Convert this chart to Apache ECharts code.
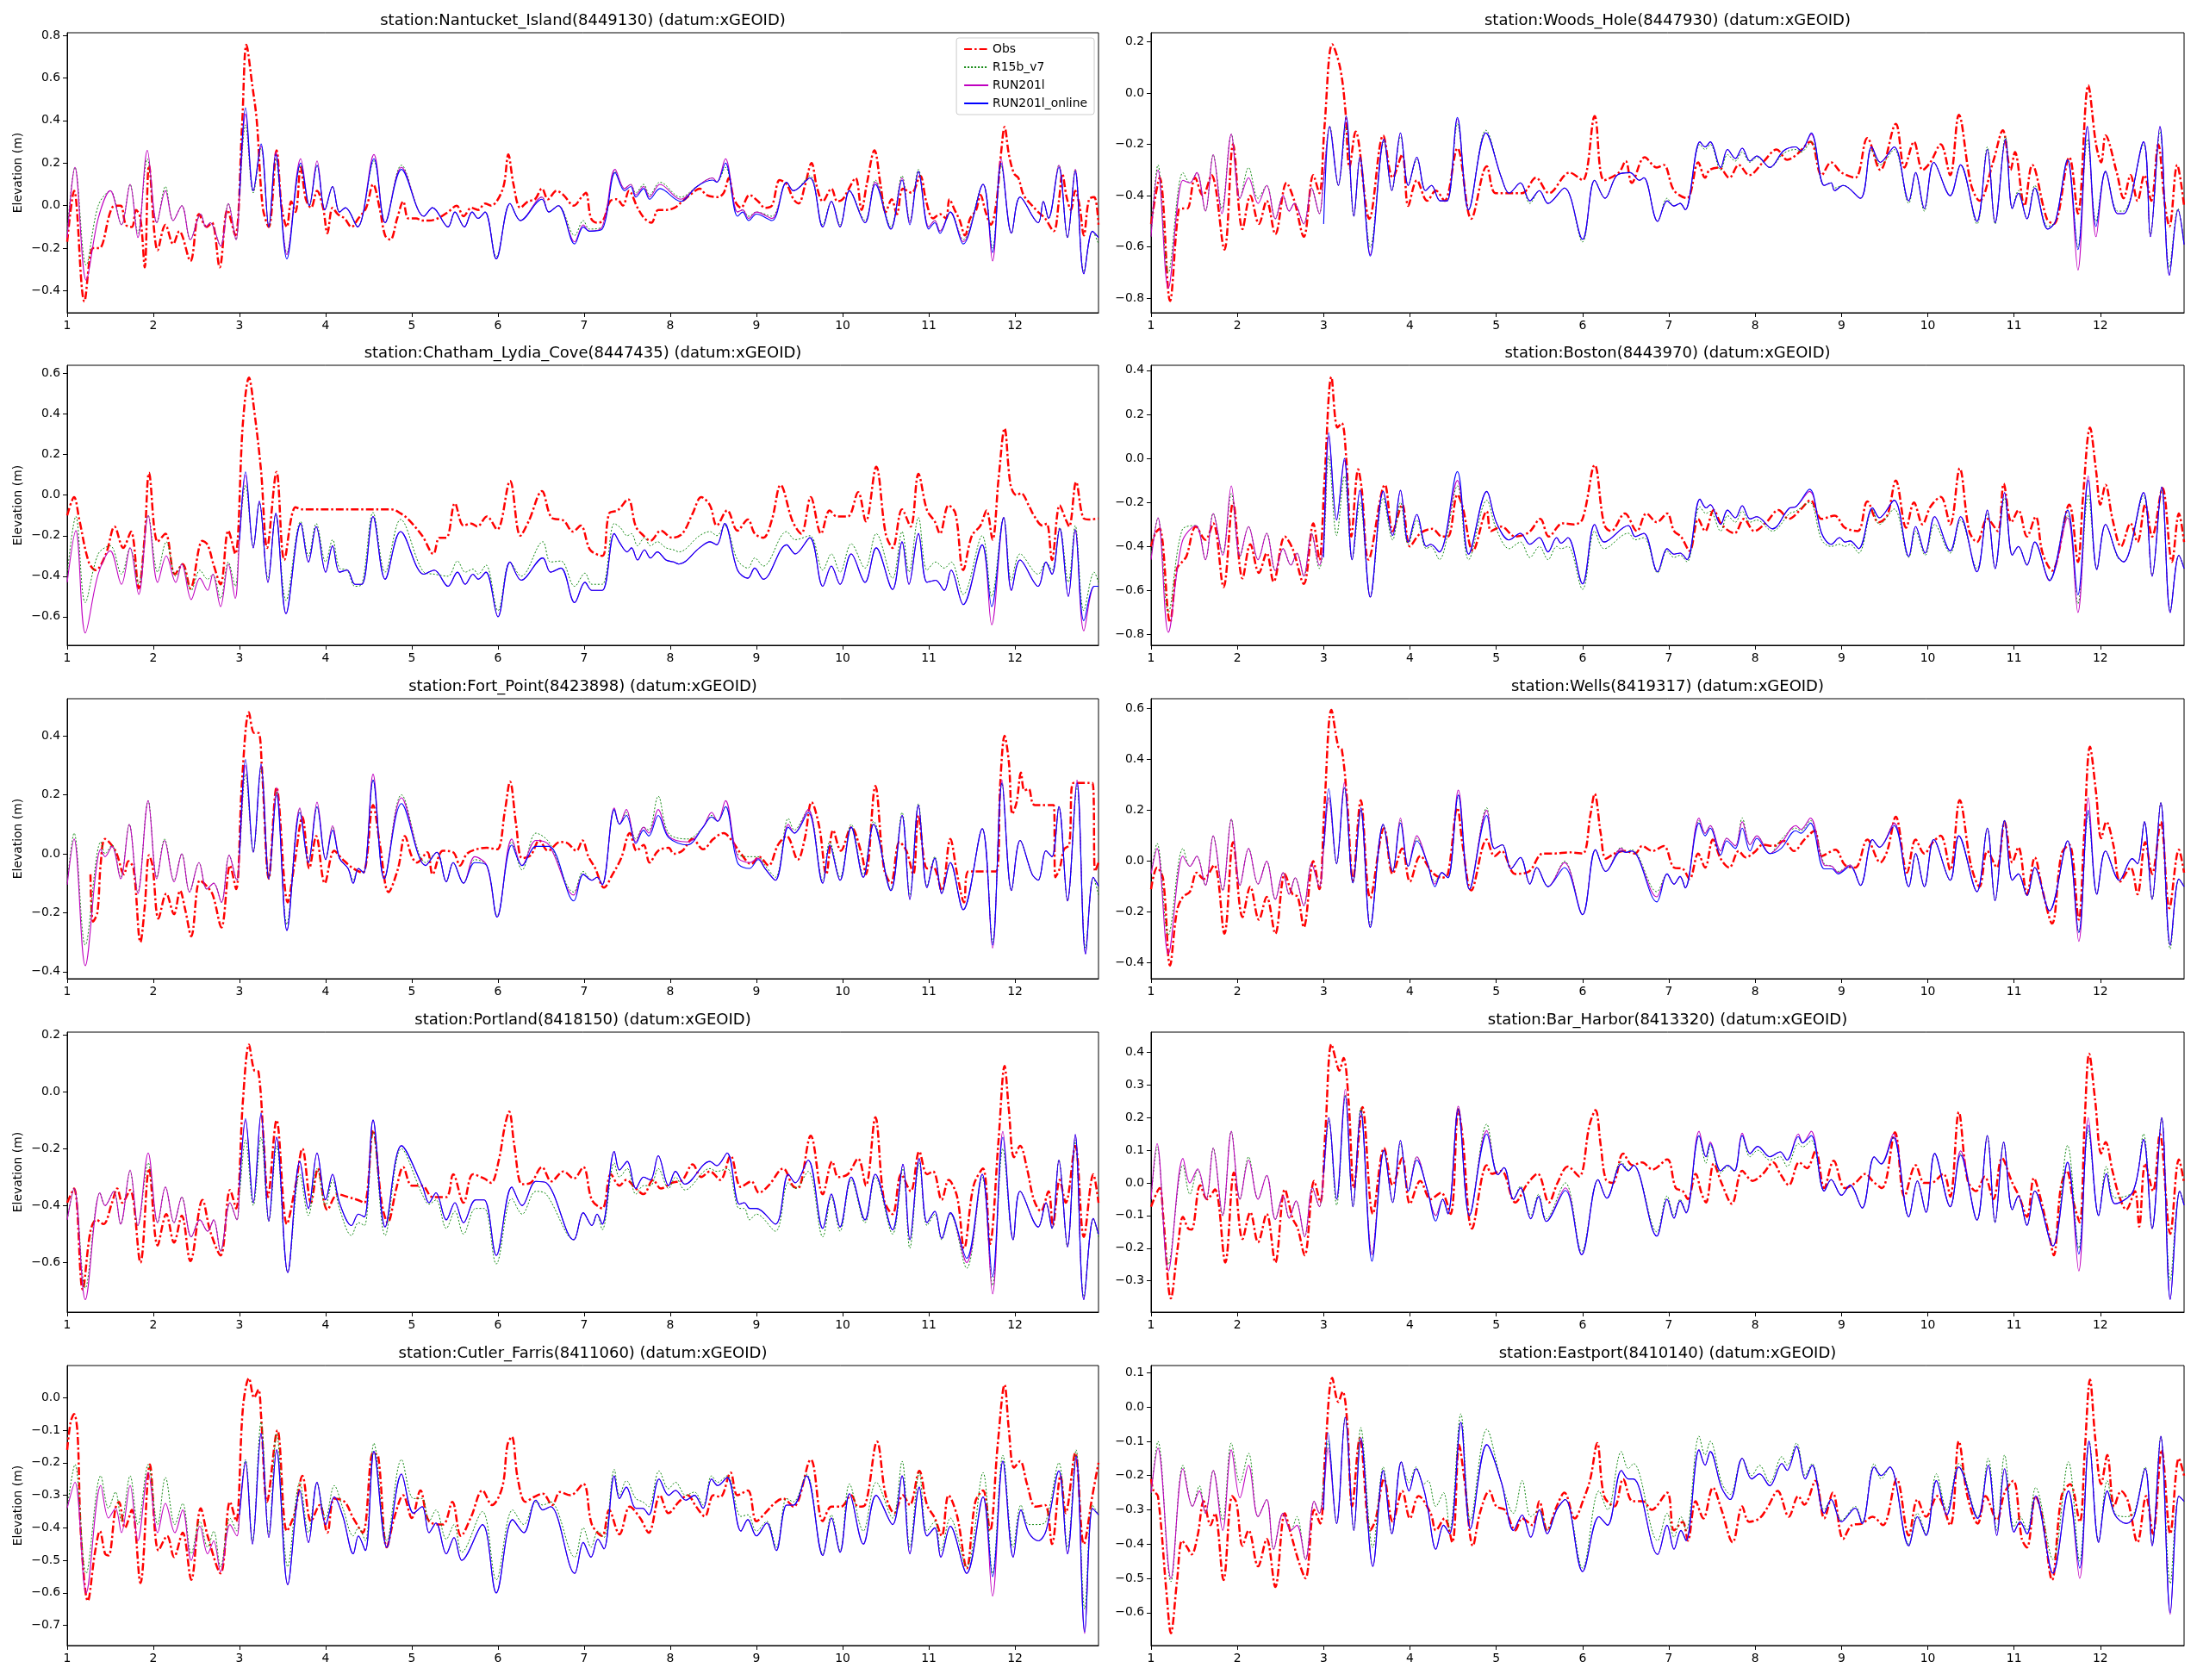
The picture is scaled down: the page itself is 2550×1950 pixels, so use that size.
<!DOCTYPE html>
<html>
<head>
<meta charset="utf-8">
<script src="https://cdn.jsdelivr.net/npm/echarts@6.0.0/dist/echarts.min.js"></script>
<style>
  html, body { margin: 0; padding: 0; background: #fff; }
  #chart { width: 2550px; height: 1950px; }
</style>
</head>
<body>
<div id="chart"></div>
<script>
// ---- labels ----
const SERIES_NAMES = ['Obs', 'R15b_v7', 'RUN201l', 'RUN201l_online'];
const STATION_TITLES = [
  'station:Nantucket_Island(8449130) (datum:xGEOID)',
  'station:Woods_Hole(8447930) (datum:xGEOID)',
  'station:Chatham_Lydia_Cove(8447435) (datum:xGEOID)',
  'station:Boston(8443970) (datum:xGEOID)',
  'station:Fort_Point(8423898) (datum:xGEOID)',
  'station:Wells(8419317) (datum:xGEOID)',
  'station:Portland(8418150) (datum:xGEOID)',
  'station:Bar_Harbor(8413320) (datum:xGEOID)',
  'station:Cutler_Farris(8411060) (datum:xGEOID)',
  'station:Eastport(8410140) (datum:xGEOID)'
];
const X_TICKS = [1, 2, 3, 4, 5, 6, 7, 8, 9, 10, 11, 12];
const Y_MIN = [-0.503, -0.856, -0.741, -0.849, -0.424, -0.462, -0.774, -0.396, -0.762, -0.696];
const Y_MAX = [0.812, 0.235, 0.641, 0.423, 0.526, 0.639, 0.209, 0.462, 0.099, 0.121];
const Y_TICKS = [
  [-0.4, -0.2, 0, 0.2, 0.4, 0.6, 0.8],
  [-0.8, -0.6, -0.4, -0.2, 0, 0.2],
  [-0.6, -0.4, -0.2, 0, 0.2, 0.4, 0.6],
  [-0.8, -0.6, -0.4, -0.2, 0, 0.2, 0.4],
  [-0.4, -0.2, 0, 0.2, 0.4],
  [-0.4, -0.2, 0, 0.2, 0.4, 0.6],
  [-0.6, -0.4, -0.2, 0, 0.2],
  [-0.3, -0.2, -0.1, 0, 0.1, 0.2, 0.3, 0.4],
  [-0.7, -0.6, -0.5, -0.4, -0.3, -0.2, -0.1, 0],
  [-0.6, -0.5, -0.4, -0.3, -0.2, -0.1, 0, 0.1]
];

// ---- data: obs rows [day, elev]; model rows [day, R15b_v7, RUN201l, RUN201l_online] ----
const nantucketObs = [[1.0,-0.17],[1.08,0.07],[1.2,-0.45],[1.3,-0.2],[1.37,-0.2],[1.5,-0.03],[1.55,0.0],[1.62,0.0],[1.68,-0.09],[1.75,-0.1],[1.8,-0.02],[1.85,-0.06],[1.9,-0.29],[1.95,0.19],[2.05,-0.21],[2.14,-0.09],[2.23,-0.18],[2.3,-0.12],[2.43,-0.26],[2.53,-0.04],[2.62,-0.1],[2.68,-0.08],[2.77,-0.29],[2.86,-0.02],[2.95,-0.14],[3.03,0.38],[3.08,0.755],[3.15,0.56],[3.2,0.4],[3.27,-0.01],[3.34,-0.1],[3.43,0.26],[3.49,-0.01],[3.55,-0.1],[3.6,0.02],[3.65,-0.03],[3.71,0.18],[3.77,0.03],[3.83,-0.01],[3.9,0.07],[3.97,-0.01],[4.02,-0.13],[4.08,-0.01],[4.14,-0.04],[4.22,-0.06],[4.3,-0.1],[4.38,-0.06],[4.47,-0.01],[4.55,0.1],[4.63,-0.02],[4.69,-0.14],[4.75,-0.16],[4.83,-0.06],[4.9,0.02],[4.96,-0.06],[5.05,-0.06],[5.12,-0.07],[5.2,-0.07],[5.3,-0.06],[5.42,-0.03],[5.52,0.0],[5.6,-0.05],[5.69,-0.01],[5.77,-0.02],[5.85,0.01],[5.92,0.0],[6.0,0.03],[6.07,0.1],[6.12,0.24],[6.18,0.1],[6.26,-0.01],[6.35,0.02],[6.43,0.03],[6.51,0.08],[6.58,0.03],[6.68,0.07],[6.76,0.05],[6.88,0.0],[6.97,0.04],[7.02,0.06],[7.08,-0.06],[7.15,-0.08],[7.22,-0.07],[7.3,0.02],[7.38,0.03],[7.45,0.0],[7.52,0.07],[7.62,-0.01],[7.7,-0.06],[7.78,-0.08],[7.86,-0.02],[7.95,-0.02],[8.05,-0.01],[8.14,0.02],[8.26,0.06],[8.34,0.08],[8.42,0.05],[8.55,0.04],[8.62,0.06],[8.68,0.13],[8.74,0.03],[8.82,-0.01],[8.92,0.05],[9.02,0.02],[9.1,-0.01],[9.18,0.0],[9.27,0.12],[9.35,0.1],[9.43,0.03],[9.49,0.01],[9.56,0.09],[9.64,0.2],[9.7,0.09],[9.77,0.02],[9.87,0.08],[9.94,0.02],[10.0,0.03],[10.06,0.07],[10.15,0.13],[10.22,-0.02],[10.28,0.1],[10.37,0.26],[10.44,0.1],[10.5,-0.03],[10.57,0.03],[10.63,-0.04],[10.7,0.08],[10.8,0.06],[10.9,0.14],[10.97,0.02],[11.05,-0.06],[11.13,-0.04],[11.2,-0.06],[11.24,0.03],[11.3,-0.02],[11.36,-0.07],[11.42,-0.14],[11.48,-0.06],[11.55,-0.02],[11.6,0.05],[11.66,-0.03],[11.72,-0.09],[11.78,0.0],[11.84,0.25],[11.88,0.37],[11.93,0.24],[11.99,0.15],[12.04,0.13],[12.1,0.05],[12.2,0.0],[12.27,-0.03],[12.35,-0.06],[12.45,-0.12],[12.51,0.02],[12.55,0.15],[12.6,0.04],[12.65,-0.02],[12.7,0.07],[12.75,0.0],[12.8,-0.14],[12.86,0.03],[12.92,0.04],[12.97,-0.09]];
const nantucketModels = [[1.0,-0.12,-0.15,null],[1.09,0.18,0.18,null],[1.22,-0.28,-0.35,null],[1.36,0.0,-0.06,null],[1.5,0.07,0.07,null],[1.63,-0.09,-0.09,null],[1.73,0.1,0.1,null],[1.82,-0.13,-0.15,null],[1.93,0.22,0.26,null],[2.04,-0.08,-0.08,null],[2.14,0.09,0.07,null],[2.23,-0.07,-0.07,null],[2.33,0.0,0.0,null],[2.43,-0.16,-0.16,null],[2.55,-0.04,-0.04,null],[2.61,-0.1,-0.1,null],[2.66,-0.08,-0.08,null],[2.78,-0.19,-0.19,null],[2.87,0.01,0.01,null],[2.96,-0.16,-0.16,null],[3.0,0.05,0.05,0.05],[3.07,0.38,0.43,0.46],[3.16,0.06,0.07,0.07],[3.25,0.27,0.28,0.29],[3.34,-0.1,-0.1,-0.1],[3.42,0.22,0.25,0.24],[3.55,-0.22,-0.23,-0.25],[3.71,0.19,0.22,0.2],[3.81,0.0,0.0,0.0],[3.9,0.19,0.21,0.19],[3.99,-0.02,-0.02,-0.02],[4.08,0.09,0.09,0.09],[4.16,-0.03,-0.03,-0.03],[4.23,-0.01,-0.01,-0.01],[4.37,-0.1,-0.1,-0.1],[4.56,0.21,0.24,0.22],[4.69,-0.08,-0.08,-0.08],[4.88,0.19,0.18,0.17],[5.14,-0.05,-0.05,-0.05],[5.24,-0.01,-0.01,-0.01],[5.42,-0.1,-0.1,-0.1],[5.5,-0.03,-0.03,-0.03],[5.61,-0.1,-0.1,-0.1],[5.7,-0.03,-0.03,-0.03],[5.77,-0.06,-0.06,-0.06],[5.85,-0.03,-0.03,-0.03],[5.98,-0.24,-0.25,-0.25],[6.14,0.01,0.01,0.01],[6.26,-0.07,-0.07,-0.07],[6.51,0.04,0.04,0.03],[6.59,-0.03,-0.03,-0.03],[6.7,0.0,0.0,0.0],[6.89,-0.14,-0.17,-0.18],[6.99,-0.07,-0.09,-0.1],[7.06,-0.11,-0.12,-0.12],[7.21,-0.1,-0.1,-0.11],[7.36,0.16,0.17,0.155],[7.47,0.08,0.08,0.07],[7.54,0.1,0.1,0.09],[7.6,0.06,0.05,0.04],[7.69,0.1,0.09,0.08],[7.76,0.05,0.04,0.03],[7.88,0.11,0.1,0.08],[8.12,0.04,0.03,0.02],[8.31,0.09,0.09,0.09],[8.49,0.13,0.13,0.12],[8.54,0.11,0.11,0.11],[8.64,0.18,0.22,0.2],[8.78,-0.03,-0.03,-0.05],[8.84,-0.02,-0.02,-0.03],[8.91,-0.05,-0.06,-0.07],[9.0,-0.03,-0.03,-0.04],[9.18,-0.05,-0.06,-0.07],[9.35,0.11,0.11,0.11],[9.43,0.07,0.07,0.07],[9.62,0.14,0.13,0.13],[9.77,-0.09,-0.1,-0.1],[9.87,0.02,0.02,0.02],[9.97,-0.09,-0.1,-0.1],[10.08,0.07,0.07,0.07],[10.26,-0.07,-0.08,-0.08],[10.38,0.12,0.11,0.1],[10.56,-0.1,-0.11,-0.11],[10.69,0.14,0.13,0.12],[10.78,-0.07,-0.08,-0.09],[10.88,0.17,0.16,0.16],[11.0,-0.1,-0.1,-0.11],[11.07,-0.07,-0.07,-0.08],[11.13,-0.12,-0.12,-0.13],[11.25,-0.03,-0.03,-0.03],[11.4,-0.16,-0.17,-0.18],[11.63,0.1,0.1,0.1],[11.74,-0.2,-0.26,-0.22],[11.84,0.19,0.22,0.2],[11.96,-0.13,-0.13,-0.13],[12.06,0.04,0.04,0.04],[12.27,-0.08,-0.08,-0.08],[12.33,0.02,0.02,0.02],[12.39,-0.06,-0.06,-0.06],[12.51,0.19,0.19,0.18],[12.61,-0.15,-0.15,-0.15],[12.7,0.17,0.17,0.16],[12.8,-0.31,-0.32,-0.32],[12.9,-0.12,-0.12,-0.12],[12.97,-0.18,-0.15,-0.15]];

const woodsHoleObs = [[1.0,-0.51],[1.1,-0.33],[1.22,-0.81],[1.32,-0.455],[1.37,-0.45],[1.42,-0.45],[1.51,-0.33],[1.6,-0.4],[1.7,-0.32],[1.85,-0.61],[1.95,-0.2],[2.06,-0.53],[2.15,-0.4],[2.25,-0.51],[2.34,-0.42],[2.44,-0.55],[2.57,-0.35],[2.66,-0.42],[2.77,-0.56],[2.88,-0.32],[2.95,-0.39],[3.01,-0.13],[3.1,0.19],[3.19,0.1],[3.25,-0.06],[3.3,-0.29],[3.37,-0.15],[3.53,-0.49],[3.69,-0.165],[3.8,-0.33],[3.91,-0.24],[3.98,-0.44],[4.08,-0.34],[4.2,-0.42],[4.3,-0.38],[4.4,-0.42],[4.55,-0.215],[4.71,-0.49],[4.89,-0.285],[4.99,-0.39],[5.14,-0.39],[5.3,-0.39],[5.46,-0.33],[5.61,-0.39],[5.85,-0.31],[6.0,-0.34],[6.14,-0.09],[6.25,-0.34],[6.42,-0.31],[6.5,-0.265],[6.57,-0.35],[6.72,-0.25],[6.86,-0.29],[6.94,-0.28],[7.06,-0.38],[7.21,-0.41],[7.34,-0.27],[7.42,-0.33],[7.47,-0.3],[7.58,-0.29],[7.7,-0.33],[7.81,-0.28],[7.93,-0.32],[8.09,-0.27],[8.25,-0.22],[8.37,-0.26],[8.48,-0.24],[8.64,-0.19],[8.77,-0.32],[8.88,-0.27],[9.0,-0.31],[9.16,-0.33],[9.3,-0.175],[9.45,-0.3],[9.63,-0.12],[9.73,-0.29],[9.84,-0.19],[9.94,-0.3],[10.03,-0.27],[10.15,-0.2],[10.26,-0.32],[10.36,-0.085],[10.5,-0.355],[10.6,-0.42],[10.76,-0.265],[10.87,-0.145],[10.96,-0.3],[11.01,-0.23],[11.12,-0.44],[11.21,-0.28],[11.38,-0.49],[11.46,-0.51],[11.64,-0.25],[11.74,-0.47],[11.86,0.03],[11.95,-0.2],[12.01,-0.27],[12.06,-0.165],[12.19,-0.31],[12.27,-0.41],[12.35,-0.32],[12.43,-0.42],[12.51,-0.32],[12.59,-0.42],[12.67,-0.2],[12.75,-0.44],[12.8,-0.52],[12.89,-0.28],[12.97,-0.44]];
const woodsHoleModels = [[1.0,-0.56,-0.56,null],[1.08,-0.28,-0.3,null],[1.2,-0.7,-0.76,null],[1.37,-0.31,-0.34,null],[1.45,-0.35,-0.35,null],[1.53,-0.31,-0.31,null],[1.63,-0.46,-0.46,null],[1.72,-0.24,-0.24,null],[1.82,-0.45,-0.47,null],[1.93,-0.16,-0.16,null],[2.03,-0.41,-0.41,null],[2.13,-0.29,-0.33,null],[2.24,-0.41,-0.43,null],[2.34,-0.36,-0.36,null],[2.44,-0.49,-0.49,null],[2.53,-0.4,-0.4,null],[2.6,-0.46,-0.46,null],[2.66,-0.43,-0.43,null],[2.77,-0.51,-0.51,null],[2.86,-0.37,-0.37,null],[2.95,-0.47,-0.47,null],[3.0,-0.33,-0.33,-0.51],[3.07,-0.13,-0.13,-0.13],[3.17,-0.36,-0.36,-0.36],[3.26,-0.13,-0.1,-0.09],[3.35,-0.48,-0.48,-0.48],[3.42,-0.25,-0.25,-0.25],[3.54,-0.6,-0.63,-0.635],[3.7,-0.19,-0.18,-0.18],[3.79,-0.38,-0.38,-0.38],[3.89,-0.17,-0.155,-0.155],[3.98,-0.36,-0.36,-0.36],[4.08,-0.26,-0.25,-0.25],[4.18,-0.38,-0.38,-0.38],[4.25,-0.36,-0.36,-0.36],[4.35,-0.42,-0.42,-0.42],[4.43,-0.42,-0.42,-0.42],[4.55,-0.12,-0.1,-0.095],[4.68,-0.455,-0.455,-0.455],[4.88,-0.145,-0.155,-0.155],[5.06,-0.33,-0.33,-0.33],[5.15,-0.39,-0.39,-0.39],[5.28,-0.35,-0.35,-0.35],[5.39,-0.43,-0.42,-0.42],[5.5,-0.38,-0.38,-0.38],[5.6,-0.43,-0.43,-0.43],[5.79,-0.37,-0.37,-0.37],[6.0,-0.58,-0.57,-0.57],[6.14,-0.34,-0.34,-0.34],[6.26,-0.41,-0.41,-0.41],[6.4,-0.32,-0.32,-0.32],[6.55,-0.31,-0.31,-0.31],[6.66,-0.34,-0.34,-0.34],[6.71,-0.33,-0.33,-0.33],[6.87,-0.5,-0.5,-0.5],[6.98,-0.41,-0.42,-0.42],[7.06,-0.44,-0.44,-0.44],[7.13,-0.43,-0.43,-0.43],[7.19,-0.455,-0.455,-0.455],[7.36,-0.2,-0.19,-0.19],[7.42,-0.22,-0.21,-0.21],[7.48,-0.2,-0.19,-0.19],[7.6,-0.3,-0.29,-0.29],[7.68,-0.24,-0.22,-0.22],[7.77,-0.265,-0.255,-0.255],[7.85,-0.23,-0.215,-0.215],[7.94,-0.27,-0.265,-0.265],[8.02,-0.25,-0.245,-0.245],[8.17,-0.29,-0.29,-0.29],[8.33,-0.235,-0.225,-0.225],[8.47,-0.22,-0.21,-0.21],[8.53,-0.23,-0.225,-0.225],[8.65,-0.19,-0.16,-0.155],[8.8,-0.36,-0.36,-0.36],[8.88,-0.35,-0.35,-0.35],[8.92,-0.37,-0.38,-0.38],[9.02,-0.36,-0.36,-0.36],[9.22,-0.41,-0.41,-0.41],[9.35,-0.22,-0.21,-0.21],[9.45,-0.28,-0.27,-0.27],[9.61,-0.22,-0.21,-0.21],[9.78,-0.43,-0.42,-0.42],[9.86,-0.31,-0.31,-0.31],[9.96,-0.46,-0.45,-0.45],[10.07,-0.27,-0.27,-0.27],[10.26,-0.4,-0.4,-0.4],[10.38,-0.28,-0.28,-0.28],[10.57,-0.51,-0.5,-0.5],[10.69,-0.21,-0.22,-0.22],[10.78,-0.51,-0.505,-0.505],[10.9,-0.17,-0.18,-0.18],[10.98,-0.45,-0.45,-0.45],[11.05,-0.38,-0.39,-0.39],[11.15,-0.49,-0.49,-0.49],[11.24,-0.36,-0.37,-0.37],[11.39,-0.52,-0.53,-0.53],[11.48,-0.5,-0.5,-0.5],[11.62,-0.26,-0.26,-0.26],[11.74,-0.6,-0.69,-0.61],[11.85,-0.18,-0.13,-0.13],[11.95,-0.5,-0.56,-0.52],[12.06,-0.31,-0.305,-0.305],[12.2,-0.46,-0.47,-0.47],[12.27,-0.46,-0.47,-0.47],[12.5,-0.2,-0.19,-0.19],[12.58,-0.55,-0.56,-0.56],[12.69,-0.15,-0.13,-0.13],[12.8,-0.68,-0.71,-0.71],[12.9,-0.45,-0.455,-0.455],[12.97,-0.59,-0.59,-0.59]];

const chathamObs = [[1.0,-0.1],[1.08,-0.01],[1.14,-0.12],[1.25,-0.33],[1.33,-0.37],[1.45,-0.29],[1.55,-0.155],[1.65,-0.26],[1.74,-0.18],[1.83,-0.46],[1.9,-0.2],[1.95,0.11],[2.05,-0.23],[2.14,-0.19],[2.25,-0.39],[2.34,-0.34],[2.43,-0.46],[2.57,-0.225],[2.63,-0.245],[2.7,-0.345],[2.78,-0.44],[2.87,-0.175],[2.95,-0.29],[3.04,0.36],[3.11,0.58],[3.17,0.42],[3.25,0.12],[3.32,-0.26],[3.43,0.115],[3.52,-0.32],[3.65,-0.06],[3.73,-0.07],[4.76,-0.07],[4.87,-0.09],[4.96,-0.12],[5.12,-0.2],[5.25,-0.29],[5.32,-0.21],[5.4,-0.21],[5.5,-0.04],[5.6,-0.15],[5.69,-0.14],[5.76,-0.155],[5.87,-0.105],[5.99,-0.17],[6.14,0.07],[6.26,-0.2],[6.36,-0.125],[6.51,0.02],[6.62,-0.11],[6.76,-0.125],[6.87,-0.18],[6.96,-0.15],[7.07,-0.27],[7.21,-0.3],[7.29,-0.09],[7.39,-0.075],[7.51,-0.02],[7.6,-0.155],[7.69,-0.2],[7.77,-0.225],[7.89,-0.175],[8.02,-0.21],[8.14,-0.19],[8.26,-0.09],[8.36,-0.01],[8.46,-0.05],[8.54,-0.15],[8.66,-0.075],[8.78,-0.175],[8.9,-0.12],[8.98,-0.19],[9.08,-0.21],[9.18,-0.12],[9.28,0.05],[9.42,-0.13],[9.52,-0.19],[9.63,-0.01],[9.75,-0.19],[9.85,-0.075],[9.93,-0.105],[10.06,-0.105],[10.18,0.015],[10.27,-0.13],[10.39,0.14],[10.5,-0.19],[10.58,-0.26],[10.69,-0.07],[10.79,-0.155],[10.88,0.105],[10.98,-0.075],[11.07,-0.13],[11.13,-0.19],[11.23,-0.05],[11.31,-0.09],[11.4,-0.37],[11.5,-0.2],[11.6,-0.15],[11.67,-0.075],[11.74,-0.22],[11.81,0.08],[11.88,0.33],[11.95,0.05],[12.02,0.0],[12.07,0.01],[12.16,-0.05],[12.22,-0.1],[12.32,-0.15],[12.37,-0.14],[12.43,-0.32],[12.52,-0.05],[12.59,-0.12],[12.63,-0.155],[12.71,0.065],[12.79,-0.11],[12.86,-0.12],[12.97,-0.115]];
const chathamModels = [[1.0,-0.39,-0.43,null],[1.1,-0.105,-0.175,null],[1.21,-0.53,-0.68,null],[1.36,-0.29,-0.39,null],[1.5,-0.25,-0.275,null],[1.63,-0.39,-0.44,null],[1.73,-0.26,-0.26,null],[1.83,-0.44,-0.49,null],[1.94,-0.1,-0.1,null],[2.05,-0.38,-0.43,null],[2.15,-0.23,-0.3,null],[2.26,-0.4,-0.43,null],[2.33,-0.34,-0.34,null],[2.44,-0.47,-0.515,null],[2.54,-0.37,-0.41,null],[2.63,-0.415,-0.47,null],[2.69,-0.39,-0.39,null],[2.78,-0.51,-0.55,null],[2.87,-0.33,-0.34,null],[2.95,-0.45,-0.51,null],[3.0,-0.2,-0.22,-0.22],[3.07,0.05,0.1,0.115],[3.16,-0.25,-0.26,-0.26],[3.23,-0.04,-0.03,-0.03],[3.33,-0.41,-0.43,-0.43],[3.42,-0.1,-0.09,-0.09],[3.54,-0.52,-0.585,-0.585],[3.71,-0.13,-0.14,-0.14],[3.8,-0.3,-0.33,-0.33],[3.89,-0.14,-0.155,-0.155],[4.0,-0.33,-0.38,-0.38],[4.08,-0.22,-0.25,-0.25],[4.16,-0.36,-0.38,-0.38],[4.25,-0.37,-0.37,-0.37],[4.34,-0.45,-0.44,-0.44],[4.42,-0.44,-0.44,-0.44],[4.55,-0.085,-0.105,-0.105],[4.69,-0.38,-0.415,-0.415],[4.87,-0.12,-0.18,-0.18],[5.14,-0.38,-0.39,-0.39],[5.26,-0.39,-0.37,-0.37],[5.42,-0.4,-0.45,-0.45],[5.53,-0.325,-0.38,-0.38],[5.62,-0.38,-0.44,-0.44],[5.71,-0.365,-0.39,-0.39],[5.77,-0.39,-0.415,-0.415],[5.86,-0.345,-0.38,-0.38],[6.0,-0.57,-0.6,-0.6],[6.14,-0.33,-0.33,-0.33],[6.27,-0.4,-0.42,-0.42],[6.52,-0.23,-0.31,-0.31],[6.61,-0.33,-0.38,-0.38],[6.73,-0.325,-0.36,-0.36],[6.89,-0.45,-0.53,-0.53],[7.01,-0.385,-0.43,-0.43],[7.09,-0.44,-0.47,-0.47],[7.21,-0.44,-0.47,-0.47],[7.35,-0.14,-0.19,-0.19],[7.42,-0.16,-0.24,-0.24],[7.5,-0.2,-0.28,-0.28],[7.55,-0.19,-0.26,-0.26],[7.62,-0.25,-0.32,-0.32],[7.7,-0.21,-0.27,-0.27],[7.77,-0.25,-0.31,-0.31],[7.85,-0.23,-0.28,-0.28],[7.95,-0.26,-0.32,-0.32],[8.04,-0.27,-0.33,-0.33],[8.1,-0.28,-0.34,-0.34],[8.34,-0.2,-0.26,-0.26],[8.46,-0.18,-0.23,-0.23],[8.54,-0.2,-0.245,-0.245],[8.63,-0.15,-0.14,-0.14],[8.78,-0.32,-0.37,-0.37],[8.9,-0.36,-0.41,-0.41],[8.98,-0.31,-0.36,-0.36],[9.08,-0.35,-0.415,-0.415],[9.35,-0.18,-0.245,-0.245],[9.45,-0.22,-0.29,-0.29],[9.62,-0.2,-0.21,-0.21],[9.77,-0.37,-0.45,-0.45],[9.87,-0.29,-0.35,-0.35],[9.97,-0.38,-0.44,-0.44],[10.1,-0.24,-0.29,-0.29],[10.26,-0.36,-0.43,-0.43],[10.39,-0.19,-0.26,-0.26],[10.58,-0.41,-0.465,-0.465],[10.69,-0.18,-0.23,-0.23],[10.77,-0.38,-0.44,-0.44],[10.88,-0.11,-0.19,-0.19],[10.98,-0.37,-0.43,-0.43],[11.08,-0.33,-0.42,-0.42],[11.18,-0.36,-0.47,-0.47],[11.26,-0.33,-0.37,-0.37],[11.4,-0.49,-0.54,-0.54],[11.62,-0.2,-0.245,-0.245],[11.73,-0.5,-0.64,-0.55],[11.87,-0.11,-0.11,-0.11],[11.96,-0.42,-0.47,-0.47],[12.06,-0.29,-0.32,-0.32],[12.27,-0.39,-0.45,-0.45],[12.36,-0.33,-0.33,-0.33],[12.43,-0.37,-0.39,-0.39],[12.52,-0.16,-0.165,-0.165],[12.62,-0.43,-0.5,-0.5],[12.7,-0.15,-0.17,-0.17],[12.8,-0.57,-0.67,-0.62],[12.92,-0.38,-0.45,-0.45],[12.97,-0.43,-0.45,-0.45]];

const bostonObs = [[1.0,-0.4],[1.05,-0.34],[1.1,-0.32],[1.22,-0.745],[1.3,-0.5],[1.36,-0.47],[1.41,-0.445],[1.52,-0.31],[1.63,-0.37],[1.72,-0.295],[1.84,-0.585],[1.95,-0.2],[2.06,-0.545],[2.15,-0.39],[2.25,-0.52],[2.34,-0.43],[2.42,-0.56],[2.55,-0.355],[2.64,-0.41],[2.77,-0.57],[2.88,-0.295],[2.95,-0.46],[3.01,-0.095],[3.09,0.37],[3.16,0.14],[3.21,0.16],[3.26,0.01],[3.32,-0.355],[3.4,-0.05],[3.44,-0.135],[3.52,-0.46],[3.71,-0.12],[3.8,-0.33],[3.91,-0.21],[4.0,-0.4],[4.12,-0.34],[4.26,-0.32],[4.37,-0.355],[4.44,-0.355],[4.55,-0.165],[4.61,-0.22],[4.73,-0.42],[4.89,-0.24],[4.94,-0.33],[5.06,-0.31],[5.22,-0.355],[5.38,-0.335],[5.51,-0.275],[5.61,-0.355],[5.77,-0.295],[5.9,-0.3],[6.0,-0.275],[6.14,-0.03],[6.25,-0.3],[6.33,-0.33],[6.49,-0.25],[6.63,-0.33],[6.74,-0.25],[6.86,-0.29],[6.98,-0.25],[7.06,-0.33],[7.14,-0.355],[7.24,-0.42],[7.34,-0.275],[7.42,-0.33],[7.52,-0.235],[7.61,-0.3],[7.76,-0.34],[7.87,-0.275],[7.99,-0.33],[8.13,-0.29],[8.27,-0.235],[8.39,-0.275],[8.52,-0.235],[8.64,-0.19],[8.77,-0.275],[8.92,-0.26],[9.04,-0.315],[9.19,-0.33],[9.3,-0.195],[9.43,-0.29],[9.53,-0.26],[9.63,-0.1],[9.75,-0.315],[9.84,-0.2],[9.94,-0.3],[10.03,-0.22],[10.15,-0.175],[10.26,-0.3],[10.37,-0.045],[10.48,-0.33],[10.57,-0.38],[10.69,-0.275],[10.81,-0.33],[10.88,-0.115],[10.97,-0.29],[11.05,-0.235],[11.15,-0.355],[11.25,-0.265],[11.33,-0.43],[11.44,-0.51],[11.64,-0.21],[11.74,-0.47],[11.8,-0.17],[11.88,0.14],[11.95,-0.055],[12.0,-0.21],[12.06,-0.12],[12.14,-0.275],[12.24,-0.4],[12.35,-0.295],[12.43,-0.38],[12.52,-0.21],[12.6,-0.355],[12.72,-0.135],[12.83,-0.47],[12.91,-0.25],[12.97,-0.38]];
const bostonModels = [[1.0,-0.44,-0.46,null],[1.08,-0.27,-0.27,null],[1.2,-0.7,-0.79,null],[1.36,-0.325,-0.38,null],[1.52,-0.305,-0.305,null],[1.63,-0.46,-0.46,null],[1.72,-0.25,-0.25,null],[1.83,-0.43,-0.44,null],[1.93,-0.16,-0.125,null],[2.03,-0.445,-0.445,null],[2.13,-0.31,-0.31,null],[2.24,-0.46,-0.46,null],[2.34,-0.34,-0.34,null],[2.44,-0.51,-0.51,null],[2.53,-0.41,-0.41,null],[2.62,-0.485,-0.485,null],[2.69,-0.43,-0.43,null],[2.77,-0.535,-0.535,null],[2.86,-0.34,-0.34,null],[2.95,-0.5,-0.485,null],[3.0,-0.4,-0.38,-0.45],[3.06,0.01,0.1,0.117],[3.15,-0.35,-0.28,-0.28],[3.24,-0.08,-0.01,0.0],[3.33,-0.46,-0.46,-0.46],[3.42,-0.2,-0.145,-0.145],[3.54,-0.63,-0.63,-0.63],[3.69,-0.18,-0.15,-0.15],[3.8,-0.37,-0.35,-0.35],[3.89,-0.2,-0.145,-0.145],[3.98,-0.39,-0.38,-0.38],[4.08,-0.28,-0.255,-0.255],[4.19,-0.41,-0.4,-0.4],[4.24,-0.4,-0.39,-0.39],[4.34,-0.46,-0.425,-0.425],[4.55,-0.125,-0.1,-0.06],[4.68,-0.46,-0.435,-0.435],[4.89,-0.19,-0.15,-0.15],[5.0,-0.32,-0.29,-0.29],[5.15,-0.41,-0.37,-0.37],[5.28,-0.38,-0.34,-0.34],[5.39,-0.45,-0.39,-0.39],[5.5,-0.4,-0.36,-0.36],[5.6,-0.46,-0.425,-0.425],[5.7,-0.4,-0.36,-0.36],[5.75,-0.41,-0.385,-0.385],[5.83,-0.4,-0.36,-0.36],[6.0,-0.595,-0.57,-0.57],[6.14,-0.33,-0.3,-0.3],[6.25,-0.41,-0.38,-0.38],[6.53,-0.34,-0.305,-0.305],[6.61,-0.37,-0.355,-0.355],[6.71,-0.36,-0.34,-0.34],[6.87,-0.52,-0.515,-0.515],[6.98,-0.42,-0.41,-0.41],[7.06,-0.45,-0.435,-0.435],[7.13,-0.44,-0.43,-0.43],[7.21,-0.47,-0.46,-0.46],[7.36,-0.22,-0.185,-0.185],[7.43,-0.25,-0.225,-0.225],[7.48,-0.24,-0.21,-0.21],[7.6,-0.33,-0.3,-0.3],[7.68,-0.26,-0.235,-0.235],[7.77,-0.29,-0.27,-0.27],[7.85,-0.24,-0.215,-0.215],[7.94,-0.29,-0.275,-0.275],[8.02,-0.28,-0.265,-0.265],[8.2,-0.33,-0.32,-0.32],[8.4,-0.25,-0.225,-0.225],[8.47,-0.24,-0.22,-0.22],[8.63,-0.2,-0.15,-0.14],[8.77,-0.37,-0.34,-0.34],[8.88,-0.4,-0.39,-0.39],[8.98,-0.39,-0.36,-0.36],[9.04,-0.4,-0.38,-0.38],[9.1,-0.39,-0.375,-0.375],[9.2,-0.43,-0.41,-0.41],[9.36,-0.23,-0.225,-0.225],[9.44,-0.3,-0.27,-0.27],[9.61,-0.23,-0.19,-0.19],[9.78,-0.45,-0.445,-0.445],[9.86,-0.33,-0.31,-0.31],[9.97,-0.44,-0.43,-0.43],[10.08,-0.3,-0.265,-0.265],[10.26,-0.43,-0.42,-0.42],[10.38,-0.28,-0.265,-0.265],[10.57,-0.5,-0.515,-0.515],[10.69,-0.25,-0.235,-0.235],[10.78,-0.5,-0.5,-0.5],[10.89,-0.18,-0.155,-0.155],[10.98,-0.44,-0.44,-0.44],[11.05,-0.4,-0.4,-0.4],[11.15,-0.48,-0.485,-0.485],[11.24,-0.38,-0.38,-0.38],[11.41,-0.55,-0.555,-0.555],[11.62,-0.26,-0.27,-0.235],[11.74,-0.66,-0.7,-0.62],[11.86,-0.165,-0.08,-0.1],[11.96,-0.5,-0.505,-0.505],[12.06,-0.3,-0.3,-0.3],[12.2,-0.45,-0.445,-0.445],[12.27,-0.47,-0.47,-0.47],[12.5,-0.17,-0.155,-0.155],[12.6,-0.53,-0.535,-0.535],[12.71,-0.14,-0.13,-0.13],[12.81,-0.69,-0.7,-0.7],[12.91,-0.44,-0.44,-0.44],[12.97,-0.5,-0.5,-0.5]];

const fortPointObs = [[1.27,-0.07],[1.3,-0.23],[1.35,-0.2],[1.39,-0.03],[1.44,0.05],[1.56,0.01],[1.66,-0.07],[1.71,-0.025],[1.77,-0.05],[1.85,-0.3],[1.9,-0.18],[1.95,-0.005],[1.99,-0.04],[2.06,-0.22],[2.15,-0.135],[2.24,-0.205],[2.31,-0.125],[2.37,-0.19],[2.44,-0.28],[2.54,-0.09],[2.62,-0.11],[2.69,-0.14],[2.79,-0.25],[2.89,-0.04],[2.96,-0.12],[3.03,0.25],[3.11,0.48],[3.17,0.41],[3.22,0.41],[3.26,0.29],[3.34,-0.085],[3.43,0.225],[3.56,-0.165],[3.64,-0.03],[3.73,0.125],[3.81,-0.05],[3.89,0.06],[3.99,-0.1],[4.1,0.01],[4.2,-0.02],[4.32,-0.05],[4.43,-0.065],[4.55,0.165],[4.63,0.03],[4.73,-0.13],[4.84,-0.05],[4.92,0.06],[5.0,-0.01],[5.06,-0.03],[5.18,0.005],[5.24,-0.07],[5.36,0.01],[5.48,0.005],[5.56,-0.04],[5.64,0.0],[5.75,0.015],[5.87,0.02],[5.99,0.015],[6.08,0.145],[6.14,0.245],[6.21,0.1],[6.28,-0.015],[6.38,-0.005],[6.48,0.045],[6.58,0.01],[6.72,0.04],[6.8,0.037],[6.91,0.01],[6.98,0.045],[7.05,-0.01],[7.13,-0.05],[7.23,-0.115],[7.33,-0.07],[7.43,-0.015],[7.53,0.07],[7.61,0.01],[7.69,0.03],[7.76,-0.03],[7.86,0.01],[7.98,0.02],[8.04,0.0],[8.14,0.01],[8.26,0.05],[8.38,0.015],[8.5,0.05],[8.62,0.07],[8.7,0.05],[8.82,0.0],[8.94,-0.035],[9.03,-0.01],[9.14,-0.04],[9.25,0.03],[9.35,0.06],[9.48,-0.02],[9.56,0.05],[9.64,0.175],[9.73,0.09],[9.81,-0.07],[9.89,0.08],[9.98,0.01],[10.1,0.09],[10.22,0.0],[10.27,-0.07],[10.38,0.23],[10.48,-0.05],[10.56,-0.1],[10.66,0.04],[10.74,0.01],[10.82,-0.07],[10.88,0.13],[10.98,-0.05],[11.05,-0.045],[11.15,-0.125],[11.25,0.05],[11.33,-0.07],[11.41,-0.165],[11.46,-0.06],[11.78,-0.06],[11.83,0.24],[11.88,0.4],[11.93,0.31],[11.97,0.135],[12.02,0.175],[12.07,0.275],[12.11,0.215],[12.16,0.22],[12.2,0.175],[12.23,0.165],[12.45,0.165],[12.47,-0.08],[12.52,-0.05],[12.57,0.015],[12.63,0.03],[12.68,0.24],[12.9,0.24],[12.93,-0.06],[12.97,-0.03]];
const fortPointModels = [[1.0,-0.1,-0.105,null],[1.08,0.07,0.05,null],[1.21,-0.31,-0.38,null],[1.39,0.04,0.015,null],[1.44,0.0,-0.01,null],[1.52,0.03,0.025,null],[1.62,-0.08,-0.085,null],[1.72,0.1,0.1,null],[1.82,-0.13,-0.135,null],[1.94,0.18,0.18,null],[2.04,-0.08,-0.085,null],[2.13,0.05,0.045,null],[2.24,-0.09,-0.095,null],[2.33,0.0,0.0,null],[2.42,-0.13,-0.13,null],[2.53,-0.03,-0.03,null],[2.62,-0.12,-0.12,null],[2.7,-0.1,-0.1,null],[2.79,-0.165,-0.165,null],[2.88,-0.005,-0.005,null],[2.97,-0.09,-0.09,null],[3.0,0.0,0.0,0.0],[3.07,0.27,0.3,0.32],[3.16,0.005,0.005,0.005],[3.25,0.29,0.3,0.305],[3.34,-0.085,-0.085,-0.085],[3.43,0.21,0.225,0.2],[3.55,-0.24,-0.26,-0.26],[3.7,0.15,0.155,0.14],[3.8,-0.03,-0.03,-0.03],[3.9,0.16,0.175,0.16],[4.0,-0.02,-0.02,-0.02],[4.08,0.09,0.095,0.08],[4.16,-0.015,-0.015,-0.015],[4.26,-0.05,-0.05,-0.05],[4.32,-0.09,-0.1,-0.1],[4.38,-0.05,-0.05,-0.05],[4.44,-0.065,-0.065,-0.065],[4.55,0.25,0.27,0.25],[4.68,-0.085,-0.085,-0.085],[4.88,0.2,0.19,0.17],[5.16,-0.03,-0.04,-0.04],[5.29,0.005,0.005,0.005],[5.4,-0.095,-0.095,-0.095],[5.48,-0.03,-0.03,-0.03],[5.6,-0.1,-0.1,-0.1],[5.73,-0.02,-0.01,-0.03],[5.87,-0.04,-0.04,-0.04],[5.99,-0.21,-0.215,-0.215],[6.16,0.04,0.05,0.03],[6.28,-0.055,-0.04,-0.04],[6.44,0.07,0.045,0.025],[6.59,0.04,0.03,0.025],[6.88,-0.13,-0.14,-0.16],[6.99,-0.06,-0.07,-0.07],[7.09,-0.09,-0.09,-0.09],[7.15,-0.08,-0.08,-0.08],[7.21,-0.105,-0.105,-0.105],[7.35,0.15,0.155,0.15],[7.41,0.1,0.1,0.1],[7.49,0.14,0.15,0.13],[7.6,0.05,0.04,0.035],[7.69,0.09,0.09,0.08],[7.75,0.08,0.07,0.06],[7.86,0.195,0.15,0.13],[7.98,0.07,0.06,0.055],[8.2,0.05,0.04,0.03],[8.38,0.09,0.09,0.09],[8.48,0.13,0.14,0.125],[8.55,0.11,0.11,0.11],[8.64,0.16,0.18,0.16],[8.78,0.0,-0.01,-0.03],[8.92,-0.01,-0.03,-0.05],[9.02,-0.01,-0.015,-0.02],[9.1,-0.04,-0.05,-0.05],[9.22,-0.08,-0.09,-0.09],[9.37,0.12,0.1,0.09],[9.44,0.08,0.07,0.07],[9.6,0.15,0.15,0.14],[9.77,-0.09,-0.1,-0.1],[9.85,0.04,0.03,0.03],[9.97,-0.08,-0.09,-0.09],[10.1,0.1,0.09,0.09],[10.24,-0.07,-0.08,-0.08],[10.36,0.11,0.1,0.1],[10.56,-0.12,-0.125,-0.125],[10.69,0.14,0.13,0.13],[10.78,-0.14,-0.155,-0.155],[10.88,0.17,0.165,0.165],[10.98,-0.11,-0.115,-0.115],[11.07,-0.01,-0.015,-0.015],[11.15,-0.13,-0.135,-0.135],[11.25,-0.03,-0.03,-0.03],[11.4,-0.19,-0.19,-0.19],[11.62,0.085,0.085,0.085],[11.74,-0.3,-0.32,-0.31],[11.85,0.24,0.25,0.24],[11.96,-0.125,-0.125,-0.125],[12.06,0.045,0.045,0.045],[12.2,-0.07,-0.07,-0.07],[12.27,-0.09,-0.09,-0.09],[12.36,0.01,0.01,0.01],[12.43,-0.01,-0.01,-0.01],[12.51,0.16,0.16,0.16],[12.61,-0.16,-0.16,-0.16],[12.72,0.23,0.25,0.24],[12.82,-0.32,-0.34,-0.34],[12.91,-0.08,-0.08,-0.08],[12.97,-0.14,-0.11,-0.11]];

const wellsObs = [[1.0,-0.11],[1.07,-0.025],[1.14,-0.07],[1.22,-0.41],[1.3,-0.195],[1.37,-0.14],[1.45,-0.12],[1.53,-0.045],[1.61,-0.07],[1.73,-0.015],[1.85,-0.285],[1.95,0.075],[2.06,-0.22],[2.15,-0.1],[2.25,-0.23],[2.34,-0.14],[2.44,-0.285],[2.55,-0.05],[2.64,-0.13],[2.7,-0.14],[2.77,-0.26],[2.88,0.0],[2.95,-0.11],[3.01,0.22],[3.09,0.595],[3.17,0.45],[3.21,0.44],[3.27,0.245],[3.34,-0.075],[3.43,0.24],[3.54,-0.145],[3.7,0.13],[3.8,-0.05],[3.91,0.05],[4.0,-0.08],[4.12,0.02],[4.26,-0.045],[4.37,-0.065],[4.44,-0.05],[4.55,0.21],[4.61,0.065],[4.71,-0.115],[4.89,0.085],[4.98,0.02],[5.06,0.04],[5.22,-0.05],[5.38,-0.04],[5.54,0.03],[5.66,0.03],[5.85,0.035],[6.0,0.03],[6.09,0.18],[6.14,0.265],[6.21,0.11],[6.27,0.01],[6.37,0.03],[6.49,0.04],[6.61,0.03],[6.69,0.06],[6.81,0.04],[6.94,0.06],[7.06,-0.025],[7.16,-0.03],[7.24,-0.07],[7.34,0.03],[7.42,-0.025],[7.51,0.085],[7.6,0.01],[7.7,-0.025],[7.81,0.04],[7.89,0.015],[7.99,0.035],[8.09,0.065],[8.21,0.06],[8.33,0.08],[8.45,0.04],[8.57,0.085],[8.69,0.12],[8.77,0.02],[8.93,0.045],[9.04,-0.015],[9.16,-0.025],[9.3,0.085],[9.45,-0.005],[9.53,0.04],[9.63,0.175],[9.76,-0.045],[9.86,0.085],[9.96,0.03],[10.06,0.075],[10.15,0.1],[10.26,-0.035],[10.37,0.24],[10.5,-0.015],[10.6,-0.1],[10.69,0.04],[10.8,-0.025],[10.89,0.155],[10.98,-0.005],[11.05,0.055],[11.15,-0.13],[11.24,0.015],[11.33,-0.115],[11.44,-0.245],[11.55,0.03],[11.64,0.065],[11.75,-0.23],[11.81,0.09],[11.88,0.45],[11.95,0.27],[12.01,0.09],[12.07,0.155],[12.15,0.065],[12.23,-0.08],[12.35,-0.025],[12.43,-0.13],[12.52,0.075],[12.6,-0.05],[12.7,0.155],[12.8,-0.185],[12.91,0.045],[12.97,-0.045]];
const wellsModels = [[1.0,-0.05,-0.05,null],[1.07,0.07,0.05,null],[1.2,-0.29,-0.365,null],[1.37,0.05,0.02,null],[1.45,-0.02,-0.02,null],[1.53,0.02,0.02,null],[1.63,-0.095,-0.095,null],[1.72,0.1,0.1,null],[1.83,-0.115,-0.115,null],[1.93,0.165,0.165,null],[2.03,-0.095,-0.095,null],[2.13,0.05,0.05,null],[2.24,-0.09,-0.09,null],[2.34,0.0,0.0,null],[2.44,-0.15,-0.15,null],[2.53,-0.045,-0.045,null],[2.6,-0.13,-0.13,null],[2.67,-0.065,-0.065,null],[2.77,-0.175,-0.175,null],[2.86,-0.01,-0.01,null],[2.95,-0.1,-0.1,null],[3.0,0.05,0.05,0.05],[3.06,0.25,0.25,0.285],[3.15,-0.01,-0.01,-0.01],[3.24,0.29,0.31,0.29],[3.34,-0.085,-0.085,-0.085],[3.43,0.2,0.2,0.21],[3.54,-0.25,-0.26,-0.26],[3.69,0.14,0.145,0.145],[3.8,-0.04,-0.04,-0.04],[3.89,0.16,0.17,0.15],[3.98,-0.02,-0.02,-0.02],[4.08,0.09,0.1,0.08],[4.2,-0.005,-0.005,-0.005],[4.29,-0.08,-0.09,-0.1],[4.37,-0.045,-0.045,-0.045],[4.44,-0.065,-0.065,-0.065],[4.56,0.26,0.28,0.26],[4.69,-0.11,-0.11,-0.11],[4.89,0.21,0.2,0.18],[4.98,0.05,0.05,0.05],[5.07,0.065,0.065,0.065],[5.17,-0.03,-0.03,-0.03],[5.28,0.015,0.015,0.015],[5.39,-0.09,-0.09,-0.09],[5.47,-0.025,-0.025,-0.025],[5.6,-0.1,-0.1,-0.1],[5.79,0.0,-0.005,-0.025],[6.0,-0.21,-0.21,-0.21],[6.15,0.045,0.045,0.045],[6.27,-0.04,-0.04,-0.04],[6.45,0.055,0.05,0.04],[6.5,0.035,0.035,0.035],[6.57,0.045,0.04,0.04],[6.86,-0.12,-0.14,-0.16],[6.98,-0.05,-0.05,-0.05],[7.06,-0.09,-0.09,-0.09],[7.13,-0.06,-0.06,-0.06],[7.19,-0.105,-0.105,-0.105],[7.35,0.16,0.17,0.15],[7.42,0.11,0.11,0.1],[7.48,0.14,0.14,0.13],[7.6,0.04,0.04,0.025],[7.67,0.09,0.09,0.08],[7.77,0.06,0.06,0.05],[7.85,0.17,0.155,0.13],[7.94,0.065,0.065,0.04],[8.02,0.1,0.1,0.09],[8.17,0.03,0.03,0.03],[8.3,0.085,0.07,0.05],[8.47,0.13,0.14,0.12],[8.53,0.12,0.125,0.11],[8.64,0.16,0.17,0.15],[8.8,-0.01,-0.015,-0.03],[8.89,-0.02,-0.02,-0.03],[8.96,-0.04,-0.045,-0.05],[9.1,-0.015,-0.015,-0.02],[9.22,-0.095,-0.095,-0.095],[9.36,0.085,0.085,0.085],[9.44,0.055,0.055,0.055],[9.61,0.15,0.15,0.14],[9.78,-0.1,-0.1,-0.1],[9.86,0.03,0.03,0.03],[9.96,-0.1,-0.1,-0.1],[10.07,0.085,0.085,0.085],[10.26,-0.075,-0.075,-0.075],[10.36,0.1,0.1,0.1],[10.57,-0.12,-0.12,-0.12],[10.69,0.13,0.13,0.13],[10.78,-0.155,-0.155,-0.155],[10.89,0.16,0.16,0.16],[10.98,-0.075,-0.075,-0.075],[11.05,-0.05,-0.05,-0.05],[11.15,-0.135,-0.135,-0.135],[11.24,-0.025,-0.025,-0.025],[11.41,-0.195,-0.195,-0.195],[11.62,0.08,0.08,0.08],[11.75,-0.28,-0.315,-0.28],[11.86,0.19,0.25,0.2],[11.96,-0.13,-0.13,-0.13],[12.06,0.04,0.04,0.04],[12.22,-0.075,-0.075,-0.075],[12.37,0.01,0.01,0.01],[12.43,-0.01,-0.01,-0.01],[12.51,0.155,0.155,0.155],[12.6,-0.15,-0.15,-0.15],[12.7,0.23,0.23,0.23],[12.81,-0.345,-0.33,-0.33],[12.91,-0.07,-0.07,-0.07],[12.97,-0.1,-0.1,-0.1]];

const portlandObs = [[1.0,-0.39],[1.08,-0.34],[1.18,-0.695],[1.27,-0.49],[1.34,-0.45],[1.42,-0.465],[1.52,-0.39],[1.58,-0.34],[1.64,-0.39],[1.73,-0.345],[1.85,-0.6],[1.95,-0.27],[2.05,-0.54],[2.15,-0.43],[2.24,-0.53],[2.33,-0.435],[2.43,-0.595],[2.57,-0.38],[2.66,-0.49],[2.78,-0.575],[2.89,-0.345],[2.96,-0.41],[3.04,-0.03],[3.11,0.165],[3.17,0.075],[3.22,0.07],[3.28,-0.17],[3.33,-0.37],[3.43,-0.1],[3.55,-0.465],[3.65,-0.33],[3.73,-0.2],[3.83,-0.39],[3.91,-0.27],[4.02,-0.415],[4.14,-0.36],[4.26,-0.37],[4.37,-0.38],[4.45,-0.39],[4.55,-0.135],[4.65,-0.39],[4.72,-0.46],[4.82,-0.34],[4.9,-0.265],[5.0,-0.33],[5.12,-0.33],[5.24,-0.37],[5.4,-0.37],[5.48,-0.29],[5.6,-0.39],[5.71,-0.29],[5.84,-0.305],[5.92,-0.32],[6.01,-0.24],[6.08,-0.12],[6.13,-0.07],[6.19,-0.19],[6.28,-0.325],[6.38,-0.32],[6.51,-0.265],[6.62,-0.315],[6.76,-0.28],[6.88,-0.305],[6.99,-0.265],[7.09,-0.38],[7.21,-0.41],[7.31,-0.29],[7.41,-0.33],[7.49,-0.31],[7.6,-0.34],[7.69,-0.36],[7.8,-0.31],[7.89,-0.34],[8.02,-0.32],[8.14,-0.31],[8.26,-0.255],[8.36,-0.3],[8.46,-0.28],[8.58,-0.31],[8.7,-0.225],[8.82,-0.335],[8.94,-0.315],[9.03,-0.355],[9.14,-0.33],[9.31,-0.27],[9.42,-0.33],[9.48,-0.34],[9.63,-0.155],[9.77,-0.36],[9.88,-0.245],[9.95,-0.3],[10.06,-0.29],[10.18,-0.235],[10.27,-0.33],[10.38,-0.09],[10.48,-0.38],[10.58,-0.43],[10.68,-0.29],[10.79,-0.35],[10.89,-0.21],[10.98,-0.29],[11.05,-0.28],[11.15,-0.38],[11.23,-0.31],[11.33,-0.37],[11.41,-0.55],[11.52,-0.33],[11.63,-0.27],[11.71,-0.535],[11.81,-0.17],[11.88,0.09],[11.93,-0.065],[11.99,-0.23],[12.06,-0.19],[12.14,-0.27],[12.22,-0.38],[12.3,-0.42],[12.39,-0.35],[12.44,-0.47],[12.52,-0.31],[12.59,-0.39],[12.7,-0.19],[12.8,-0.51],[12.91,-0.29],[12.97,-0.39]];
const portlandModels = [[1.0,-0.45,-0.45,null],[1.08,-0.34,-0.34,null],[1.21,-0.69,-0.73,null],[1.38,-0.355,-0.355,null],[1.44,-0.4,-0.4,null],[1.54,-0.35,-0.35,null],[1.62,-0.465,-0.465,null],[1.73,-0.28,-0.275,null],[1.82,-0.47,-0.47,null],[1.94,-0.25,-0.215,null],[2.05,-0.46,-0.46,null],[2.14,-0.335,-0.335,null],[2.24,-0.46,-0.46,null],[2.33,-0.37,-0.37,null],[2.44,-0.51,-0.51,null],[2.54,-0.45,-0.45,null],[2.63,-0.49,-0.49,null],[2.7,-0.45,-0.45,null],[2.78,-0.56,-0.56,null],[2.89,-0.39,-0.39,null],[2.97,-0.45,-0.45,null],[3.0,-0.36,-0.33,-0.33],[3.07,-0.17,-0.1,-0.095],[3.16,-0.4,-0.39,-0.39],[3.25,-0.16,-0.08,-0.075],[3.34,-0.455,-0.455,-0.455],[3.43,-0.19,-0.16,-0.16],[3.56,-0.635,-0.635,-0.635],[3.7,-0.29,-0.245,-0.245],[3.8,-0.435,-0.41,-0.41],[3.9,-0.27,-0.215,-0.215],[4.0,-0.4,-0.38,-0.38],[4.08,-0.31,-0.29,-0.29],[4.16,-0.41,-0.39,-0.39],[4.3,-0.505,-0.47,-0.47],[4.38,-0.46,-0.43,-0.43],[4.45,-0.47,-0.44,-0.44],[4.55,-0.14,-0.1,-0.1],[4.69,-0.505,-0.475,-0.475],[4.88,-0.2,-0.19,-0.19],[5.12,-0.36,-0.33,-0.33],[5.2,-0.395,-0.39,-0.39],[5.28,-0.38,-0.355,-0.355],[5.4,-0.48,-0.45,-0.45],[5.5,-0.42,-0.39,-0.39],[5.6,-0.5,-0.46,-0.46],[5.74,-0.41,-0.38,-0.38],[5.84,-0.41,-0.38,-0.38],[5.98,-0.605,-0.575,-0.575],[6.16,-0.375,-0.335,-0.335],[6.28,-0.43,-0.4,-0.4],[6.44,-0.35,-0.315,-0.315],[6.56,-0.36,-0.32,-0.32],[6.88,-0.52,-0.52,-0.52],[6.99,-0.425,-0.425,-0.425],[7.09,-0.47,-0.47,-0.47],[7.15,-0.43,-0.43,-0.43],[7.21,-0.485,-0.465,-0.465],[7.35,-0.25,-0.21,-0.21],[7.41,-0.3,-0.275,-0.275],[7.5,-0.27,-0.245,-0.245],[7.6,-0.36,-0.34,-0.34],[7.69,-0.33,-0.3,-0.3],[7.77,-0.33,-0.31,-0.31],[7.86,-0.27,-0.225,-0.225],[7.98,-0.34,-0.33,-0.33],[8.06,-0.3,-0.28,-0.28],[8.17,-0.345,-0.325,-0.325],[8.46,-0.27,-0.245,-0.245],[8.54,-0.28,-0.26,-0.26],[8.66,-0.27,-0.215,-0.215],[8.8,-0.41,-0.395,-0.395],[8.86,-0.41,-0.39,-0.39],[8.92,-0.45,-0.41,-0.41],[9.0,-0.43,-0.41,-0.41],[9.22,-0.49,-0.465,-0.465],[9.37,-0.32,-0.29,-0.29],[9.45,-0.34,-0.32,-0.32],[9.6,-0.28,-0.24,-0.24],[9.77,-0.51,-0.48,-0.48],[9.87,-0.37,-0.36,-0.36],[9.97,-0.49,-0.475,-0.475],[10.1,-0.31,-0.3,-0.3],[10.26,-0.46,-0.45,-0.45],[10.38,-0.3,-0.29,-0.29],[10.58,-0.5,-0.485,-0.485],[10.7,-0.27,-0.255,-0.255],[10.78,-0.55,-0.52,-0.52],[10.89,-0.25,-0.235,-0.235],[10.98,-0.47,-0.46,-0.46],[11.07,-0.43,-0.42,-0.42],[11.15,-0.52,-0.515,-0.515],[11.25,-0.43,-0.425,-0.425],[11.44,-0.62,-0.6,-0.585],[11.62,-0.3,-0.29,-0.29],[11.74,-0.68,-0.71,-0.65],[11.86,-0.2,-0.14,-0.16],[11.98,-0.52,-0.52,-0.52],[12.06,-0.35,-0.35,-0.35],[12.27,-0.475,-0.475,-0.475],[12.36,-0.39,-0.39,-0.39],[12.43,-0.48,-0.48,-0.48],[12.51,-0.24,-0.24,-0.24],[12.61,-0.545,-0.545,-0.545],[12.7,-0.17,-0.15,-0.15],[12.8,-0.72,-0.73,-0.73],[12.91,-0.445,-0.445,-0.445],[12.97,-0.51,-0.5,-0.5]];

const barHarborObs = [[1.0,-0.073],[1.1,-0.016],[1.14,-0.1],[1.23,-0.354],[1.31,-0.196],[1.37,-0.104],[1.43,-0.14],[1.47,-0.143],[1.57,-0.007],[1.65,-0.05],[1.74,-0.02],[1.86,-0.244],[1.96,0.032],[2.06,-0.172],[2.15,-0.09],[2.24,-0.182],[2.34,-0.095],[2.44,-0.244],[2.55,-0.02],[2.64,-0.108],[2.7,-0.14],[2.78,-0.222],[2.89,0.006],[2.96,-0.06],[3.02,0.16],[3.09,0.425],[3.16,0.357],[3.18,0.344],[3.23,0.383],[3.29,0.247],[3.35,-0.016],[3.45,0.232],[3.57,-0.095],[3.7,0.107],[3.8,-0.007],[3.91,0.076],[4.0,-0.064],[4.12,0.006],[4.24,-0.05],[4.36,-0.03],[4.47,-0.095],[4.56,0.225],[4.61,0.14],[4.72,-0.14],[4.89,0.054],[4.95,0.028],[5.06,0.037],[5.22,-0.06],[5.36,-0.003],[5.48,0.028],[5.61,-0.06],[5.71,0.0],[5.83,0.05],[5.96,0.02],[6.08,0.177],[6.15,0.223],[6.21,0.116],[6.27,0.01],[6.35,0.0],[6.47,0.09],[6.58,0.054],[6.69,0.063],[6.81,0.041],[6.98,0.072],[7.08,-0.016],[7.16,-0.025],[7.22,-0.05],[7.31,0.028],[7.38,-0.033],[7.43,-0.06],[7.52,0.059],[7.61,0.0],[7.73,-0.064],[7.85,0.037],[7.97,0.006],[8.09,0.028],[8.21,0.063],[8.29,0.028],[8.39,-0.007],[8.51,0.063],[8.6,0.045],[8.7,0.098],[8.8,-0.016],[8.91,0.068],[9.04,-0.016],[9.16,0.0],[9.28,0.028],[9.36,0.006],[9.47,-0.016],[9.62,0.155],[9.73,-0.042],[9.86,0.054],[9.96,0.0],[10.04,0.0],[10.18,0.028],[10.26,-0.042],[10.36,0.217],[10.46,0.01],[10.56,-0.025],[10.66,0.019],[10.76,-0.05],[10.86,0.076],[10.98,0.0],[11.06,-0.042],[11.15,-0.104],[11.23,0.015],[11.29,-0.03],[11.41,-0.165],[11.46,-0.222],[11.54,-0.016],[11.61,0.037],[11.69,-0.06],[11.76,-0.121],[11.82,0.2],[11.87,0.396],[11.94,0.252],[12.01,0.09],[12.06,0.125],[12.14,0.037],[12.22,-0.042],[12.3,-0.082],[12.4,-0.025],[12.45,-0.134],[12.52,0.059],[12.61,-0.025],[12.69,0.15],[12.81,-0.156],[12.91,0.072],[12.97,0.0]];
const barHarborModels = [[1.0,-0.05,-0.05,null],[1.07,0.11,0.12,null],[1.2,-0.25,-0.27,null],[1.37,0.055,0.075,null],[1.45,-0.035,0.0,null],[1.54,0.04,0.043,null],[1.64,-0.05,-0.05,null],[1.72,0.107,0.107,null],[1.83,-0.1,-0.1,null],[1.93,0.158,0.158,null],[2.03,-0.05,-0.05,null],[2.13,0.08,0.07,null],[2.24,-0.05,-0.05,null],[2.34,0.023,0.023,null],[2.44,-0.112,-0.112,null],[2.53,-0.04,-0.04,null],[2.6,-0.108,-0.108,null],[2.68,-0.055,-0.055,null],[2.78,-0.165,-0.165,null],[2.87,-0.015,-0.015,null],[2.95,-0.073,-0.073,null],[3.0,0.03,0.03,0.03],[3.06,0.19,0.2,0.2],[3.15,-0.068,-0.05,-0.05],[3.25,0.27,0.287,0.265],[3.34,-0.073,-0.073,-0.073],[3.43,0.23,0.22,0.22],[3.56,-0.22,-0.22,-0.24],[3.7,0.1,0.1,0.1],[3.8,-0.06,-0.06,-0.06],[3.89,0.12,0.13,0.13],[3.98,-0.025,-0.025,-0.025],[4.08,0.08,0.08,0.07],[4.2,-0.02,-0.02,-0.02],[4.3,-0.1,-0.1,-0.117],[4.38,-0.05,-0.05,-0.05],[4.44,-0.095,-0.095,-0.095],[4.56,0.23,0.235,0.225],[4.69,-0.1,-0.1,-0.1],[4.89,0.18,0.16,0.15],[5.02,0.025,0.025,0.025],[5.09,0.047,0.047,0.047],[5.2,-0.05,-0.05,-0.05],[5.28,-0.01,-0.015,-0.015],[5.4,-0.1,-0.11,-0.11],[5.49,-0.035,-0.042,-0.042],[5.58,-0.11,-0.118,-0.118],[5.8,0.0,-0.015,-0.023],[5.99,-0.21,-0.22,-0.22],[6.18,0.01,0.01,0.01],[6.28,-0.047,-0.047,-0.047],[6.45,0.065,0.058,0.058],[6.53,0.04,0.037,0.037],[6.59,0.054,0.054,0.054],[6.86,-0.15,-0.163,-0.163],[6.98,-0.04,-0.05,-0.05],[7.06,-0.1,-0.108,-0.108],[7.13,-0.05,-0.055,-0.055],[7.2,-0.09,-0.092,-0.092],[7.35,0.145,0.158,0.145],[7.43,0.06,0.08,0.08],[7.48,0.115,0.125,0.12],[7.6,0.03,0.037,0.037],[7.68,0.05,0.054,0.054],[7.76,0.035,0.037,0.037],[7.85,0.145,0.152,0.145],[7.94,0.08,0.09,0.09],[8.03,0.1,0.112,0.112],[8.17,0.07,0.08,0.08],[8.29,0.08,0.095,0.095],[8.37,0.05,0.07,0.07],[8.5,0.12,0.15,0.142],[8.55,0.11,0.122,0.122],[8.65,0.13,0.158,0.145],[8.8,-0.025,-0.025,-0.025],[8.88,0.01,0.01,0.01],[9.0,-0.038,-0.038,-0.038],[9.1,-0.007,-0.007,-0.007],[9.24,-0.077,-0.077,-0.077],[9.38,0.08,0.08,0.08],[9.46,0.058,0.058,0.058],[9.6,0.14,0.15,0.14],[9.78,-0.104,-0.104,-0.104],[9.88,0.006,0.006,0.006],[9.98,-0.09,-0.09,-0.09],[10.08,0.09,0.09,0.09],[10.26,-0.073,-0.073,-0.073],[10.38,0.09,0.098,0.085],[10.57,-0.114,-0.114,-0.114],[10.69,0.145,0.145,0.145],[10.78,-0.121,-0.121,-0.121],[10.88,0.125,0.125,0.125],[10.98,-0.082,-0.082,-0.082],[11.05,-0.04,-0.04,-0.04],[11.15,-0.13,-0.13,-0.13],[11.24,-0.025,-0.025,-0.025],[11.45,-0.193,-0.193,-0.193],[11.62,0.115,0.063,0.063],[11.75,-0.2,-0.27,-0.218],[11.86,0.16,0.2,0.177],[11.98,-0.1,-0.1,-0.1],[12.07,0.05,0.028,0.028],[12.17,-0.046,-0.064,-0.064],[12.38,-0.025,-0.025,-0.025],[12.5,0.15,0.133,0.133],[12.6,-0.14,-0.14,-0.14],[12.71,0.2,0.2,0.2],[12.81,-0.3,-0.357,-0.357],[12.92,-0.025,-0.025,-0.025],[12.97,-0.068,-0.068,-0.068]];

const cutlerObs = [[1.0,-0.16],[1.04,-0.075],[1.08,-0.05],[1.12,-0.11],[1.16,-0.425],[1.24,-0.625],[1.32,-0.48],[1.38,-0.41],[1.44,-0.48],[1.48,-0.485],[1.56,-0.34],[1.6,-0.32],[1.67,-0.4],[1.75,-0.345],[1.85,-0.57],[1.96,-0.205],[2.06,-0.47],[2.16,-0.425],[2.24,-0.49],[2.34,-0.415],[2.44,-0.56],[2.55,-0.34],[2.63,-0.425],[2.78,-0.54],[2.89,-0.32],[2.96,-0.38],[3.04,-0.03],[3.11,0.06],[3.17,0.0],[3.22,0.025],[3.25,-0.055],[3.32,-0.32],[3.44,-0.1],[3.55,-0.41],[3.64,-0.355],[3.73,-0.24],[3.83,-0.38],[3.93,-0.33],[4.02,-0.415],[4.1,-0.31],[4.22,-0.32],[4.32,-0.37],[4.43,-0.415],[4.55,-0.17],[4.61,-0.18],[4.71,-0.46],[4.8,-0.365],[4.9,-0.3],[5.0,-0.37],[5.1,-0.285],[5.2,-0.38],[5.36,-0.39],[5.47,-0.32],[5.57,-0.425],[5.69,-0.365],[5.82,-0.285],[5.93,-0.33],[6.05,-0.275],[6.11,-0.145],[6.16,-0.12],[6.23,-0.25],[6.32,-0.32],[6.42,-0.305],[6.52,-0.295],[6.63,-0.33],[6.72,-0.29],[6.84,-0.3],[6.99,-0.265],[7.09,-0.39],[7.21,-0.425],[7.29,-0.345],[7.41,-0.42],[7.53,-0.335],[7.65,-0.37],[7.75,-0.415],[7.88,-0.3],[7.98,-0.355],[8.1,-0.32],[8.2,-0.3],[8.3,-0.335],[8.4,-0.365],[8.5,-0.3],[8.58,-0.305],[8.7,-0.23],[8.78,-0.3],[8.9,-0.285],[9.0,-0.38],[9.1,-0.355],[9.23,-0.32],[9.31,-0.31],[9.43,-0.335],[9.63,-0.19],[9.77,-0.38],[9.87,-0.335],[9.98,-0.335],[10.1,-0.3],[10.18,-0.335],[10.26,-0.33],[10.4,-0.135],[10.5,-0.3],[10.6,-0.355],[10.7,-0.3],[10.78,-0.33],[10.89,-0.225],[10.98,-0.33],[11.07,-0.37],[11.15,-0.425],[11.23,-0.3],[11.33,-0.365],[11.44,-0.525],[11.54,-0.32],[11.63,-0.285],[11.71,-0.41],[11.8,-0.145],[11.88,0.04],[11.93,-0.1],[11.99,-0.215],[12.06,-0.195],[12.14,-0.265],[12.24,-0.335],[12.35,-0.33],[12.43,-0.45],[12.53,-0.24],[12.59,-0.355],[12.7,-0.17],[12.8,-0.45],[12.9,-0.3],[12.97,-0.2]];
const cutlerModels = [[1.0,-0.34,-0.34,null],[1.09,-0.205,-0.26,null],[1.22,-0.54,-0.6,null],[1.39,-0.24,-0.27,null],[1.48,-0.34,-0.37,null],[1.56,-0.29,-0.34,null],[1.63,-0.38,-0.415,null],[1.73,-0.24,-0.27,null],[1.82,-0.39,-0.44,null],[1.94,-0.205,-0.23,null],[2.05,-0.39,-0.415,null],[2.14,-0.245,-0.325,null],[2.25,-0.39,-0.415,null],[2.34,-0.325,-0.345,null],[2.44,-0.48,-0.5,null],[2.54,-0.38,-0.395,null],[2.63,-0.46,-0.48,null],[2.7,-0.41,-0.44,null],[2.78,-0.52,-0.535,null],[2.89,-0.37,-0.39,null],[2.97,-0.41,-0.425,null],[3.0,-0.35,-0.36,-0.36],[3.07,-0.19,-0.2,-0.195],[3.15,-0.44,-0.45,-0.45],[3.25,-0.075,-0.11,-0.11],[3.34,-0.42,-0.43,-0.43],[3.43,-0.11,-0.16,-0.16],[3.56,-0.52,-0.575,-0.575],[3.7,-0.26,-0.285,-0.285],[3.8,-0.415,-0.445,-0.445],[3.9,-0.265,-0.26,-0.26],[4.0,-0.37,-0.39,-0.39],[4.1,-0.27,-0.305,-0.305],[4.2,-0.34,-0.365,-0.365],[4.32,-0.425,-0.48,-0.48],[4.38,-0.4,-0.425,-0.425],[4.46,-0.44,-0.47,-0.47],[4.56,-0.14,-0.165,-0.165],[4.71,-0.44,-0.46,-0.46],[4.88,-0.19,-0.235,-0.235],[5.02,-0.31,-0.355,-0.355],[5.12,-0.31,-0.335,-0.335],[5.2,-0.38,-0.415,-0.415],[5.28,-0.345,-0.385,-0.385],[5.4,-0.435,-0.48,-0.48],[5.49,-0.39,-0.43,-0.43],[5.58,-0.475,-0.5,-0.5],[5.82,-0.35,-0.39,-0.39],[5.98,-0.56,-0.6,-0.6],[6.17,-0.345,-0.375,-0.375],[6.3,-0.39,-0.415,-0.415],[6.44,-0.32,-0.315,-0.315],[6.52,-0.33,-0.345,-0.345],[6.61,-0.32,-0.335,-0.335],[6.89,-0.49,-0.54,-0.54],[6.99,-0.4,-0.445,-0.445],[7.08,-0.46,-0.49,-0.49],[7.16,-0.41,-0.435,-0.435],[7.23,-0.43,-0.465,-0.465],[7.35,-0.22,-0.24,-0.24],[7.41,-0.3,-0.31,-0.31],[7.49,-0.255,-0.275,-0.275],[7.6,-0.31,-0.34,-0.34],[7.68,-0.32,-0.34,-0.34],[7.75,-0.335,-0.36,-0.36],[7.87,-0.225,-0.25,-0.25],[7.98,-0.28,-0.3,-0.3],[8.06,-0.26,-0.285,-0.285],[8.18,-0.3,-0.315,-0.315],[8.28,-0.29,-0.3,-0.3],[8.38,-0.33,-0.34,-0.34],[8.48,-0.24,-0.25,-0.25],[8.55,-0.26,-0.27,-0.27],[8.66,-0.24,-0.245,-0.245],[8.82,-0.365,-0.41,-0.41],[8.9,-0.36,-0.375,-0.375],[9.0,-0.41,-0.425,-0.425],[9.12,-0.38,-0.385,-0.385],[9.23,-0.46,-0.47,-0.47],[9.35,-0.31,-0.33,-0.33],[9.43,-0.32,-0.33,-0.33],[9.58,-0.235,-0.24,-0.24],[9.77,-0.48,-0.485,-0.485],[9.87,-0.36,-0.37,-0.37],[9.97,-0.47,-0.475,-0.475],[10.08,-0.265,-0.295,-0.295],[10.24,-0.41,-0.45,-0.45],[10.39,-0.26,-0.3,-0.3],[10.58,-0.37,-0.39,-0.39],[10.69,-0.195,-0.24,-0.24],[10.78,-0.46,-0.48,-0.48],[10.89,-0.23,-0.275,-0.275],[10.98,-0.41,-0.425,-0.425],[11.07,-0.38,-0.4,-0.4],[11.14,-0.47,-0.49,-0.49],[11.25,-0.37,-0.395,-0.395],[11.44,-0.52,-0.54,-0.54],[11.63,-0.23,-0.305,-0.305],[11.74,-0.54,-0.61,-0.55],[11.86,-0.177,-0.195,-0.195],[11.98,-0.46,-0.49,-0.49],[12.07,-0.33,-0.345,-0.345],[12.16,-0.39,-0.415,-0.415],[12.27,-0.39,-0.44,-0.44],[12.36,-0.38,-0.41,-0.41],[12.51,-0.2,-0.225,-0.225],[12.61,-0.46,-0.48,-0.48],[12.71,-0.16,-0.18,-0.18],[12.81,-0.65,-0.725,-0.72],[12.9,-0.33,-0.34,-0.34],[12.97,-0.36,-0.36,-0.36]];

const eastportObs = [[1.0,-0.21],[1.03,-0.245],[1.08,-0.26],[1.18,-0.545],[1.23,-0.66],[1.3,-0.51],[1.36,-0.39],[1.42,-0.41],[1.47,-0.43],[1.54,-0.375],[1.61,-0.275],[1.69,-0.345],[1.74,-0.31],[1.84,-0.505],[1.94,-0.26],[1.99,-0.28],[2.06,-0.405],[2.13,-0.36],[2.24,-0.465],[2.34,-0.385],[2.44,-0.525],[2.55,-0.31],[2.62,-0.37],[2.71,-0.45],[2.79,-0.5],[2.89,-0.3],[2.96,-0.34],[3.02,-0.125],[3.1,0.085],[3.17,0.015],[3.22,0.045],[3.27,-0.035],[3.33,-0.29],[3.42,-0.09],[3.54,-0.36],[3.6,-0.33],[3.7,-0.21],[3.8,-0.335],[3.91,-0.245],[4.0,-0.325],[4.1,-0.26],[4.24,-0.31],[4.3,-0.36],[4.4,-0.325],[4.49,-0.395],[4.57,-0.11],[4.63,-0.21],[4.73,-0.405],[4.81,-0.31],[4.92,-0.245],[5.0,-0.29],[5.1,-0.3],[5.22,-0.36],[5.3,-0.325],[5.42,-0.345],[5.5,-0.275],[5.59,-0.36],[5.7,-0.29],[5.79,-0.25],[5.91,-0.325],[6.01,-0.27],[6.09,-0.21],[6.17,-0.105],[6.25,-0.26],[6.37,-0.29],[6.47,-0.21],[6.58,-0.275],[6.7,-0.275],[6.8,-0.3],[6.98,-0.25],[7.06,-0.36],[7.16,-0.335],[7.22,-0.39],[7.31,-0.275],[7.4,-0.325],[7.51,-0.235],[7.61,-0.3],[7.74,-0.395],[7.85,-0.29],[7.93,-0.335],[8.05,-0.325],[8.15,-0.29],[8.26,-0.245],[8.39,-0.32],[8.5,-0.26],[8.57,-0.285],[8.7,-0.215],[8.8,-0.325],[8.9,-0.25],[9.02,-0.385],[9.12,-0.345],[9.24,-0.34],[9.36,-0.32],[9.48,-0.345],[9.64,-0.21],[9.78,-0.375],[9.88,-0.27],[9.98,-0.32],[10.11,-0.26],[10.26,-0.345],[10.36,-0.1],[10.46,-0.26],[10.58,-0.34],[10.67,-0.26],[10.8,-0.33],[10.89,-0.25],[10.99,-0.215],[11.09,-0.385],[11.15,-0.41],[11.25,-0.26],[11.33,-0.325],[11.44,-0.505],[11.55,-0.26],[11.65,-0.225],[11.76,-0.335],[11.82,-0.125],[11.88,0.08],[11.94,-0.09],[12.01,-0.225],[12.08,-0.14],[12.16,-0.29],[12.24,-0.245],[12.32,-0.275],[12.43,-0.395],[12.53,-0.26],[12.61,-0.37],[12.71,-0.125],[12.81,-0.37],[12.91,-0.15],[12.97,-0.2]];
const eastportModels = [[1.0,-0.26,-0.25,null],[1.08,-0.1,-0.12,null],[1.23,-0.51,-0.5,null],[1.37,-0.17,-0.18,null],[1.48,-0.29,-0.29,null],[1.56,-0.23,-0.245,null],[1.63,-0.31,-0.31,null],[1.72,-0.185,-0.185,null],[1.83,-0.33,-0.36,null],[1.93,-0.105,-0.125,null],[2.03,-0.22,-0.265,null],[2.13,-0.135,-0.17,null],[2.24,-0.32,-0.32,null],[2.34,-0.27,-0.27,null],[2.42,-0.415,-0.415,null],[2.53,-0.31,-0.31,null],[2.62,-0.36,-0.36,null],[2.69,-0.32,-0.345,null],[2.79,-0.445,-0.445,null],[2.89,-0.275,-0.275,null],[2.95,-0.31,-0.31,null],[3.0,-0.22,-0.25,-0.3],[3.05,-0.1,-0.12,-0.075],[3.15,-0.34,-0.34,-0.34],[3.25,-0.03,-0.03,-0.03],[3.35,-0.36,-0.36,-0.36],[3.43,-0.06,-0.09,-0.09],[3.57,-0.41,-0.465,-0.465],[3.69,-0.175,-0.185,-0.185],[3.79,-0.37,-0.37,-0.37],[3.9,-0.16,-0.16,-0.16],[3.99,-0.22,-0.245,-0.245],[4.07,-0.175,-0.18,-0.18],[4.16,-0.225,-0.24,-0.24],[4.21,-0.215,-0.3,-0.3],[4.3,-0.29,-0.415,-0.415],[4.39,-0.25,-0.345,-0.345],[4.46,-0.36,-0.37,-0.37],[4.59,-0.02,-0.045,-0.045],[4.7,-0.33,-0.355,-0.355],[4.89,-0.065,-0.11,-0.11],[5.06,-0.22,-0.22,-0.22],[5.2,-0.31,-0.36,-0.36],[5.3,-0.215,-0.315,-0.315],[5.4,-0.32,-0.38,-0.38],[5.5,-0.3,-0.3,-0.3],[5.59,-0.36,-0.37,-0.37],[5.7,-0.3,-0.3,-0.3],[5.8,-0.27,-0.27,-0.27],[6.0,-0.47,-0.48,-0.48],[6.19,-0.245,-0.32,-0.32],[6.29,-0.3,-0.345,-0.345],[6.45,-0.13,-0.185,-0.185],[6.53,-0.18,-0.21,-0.21],[6.59,-0.165,-0.21,-0.21],[6.87,-0.39,-0.43,-0.43],[6.98,-0.31,-0.345,-0.345],[7.06,-0.38,-0.415,-0.415],[7.14,-0.32,-0.36,-0.36],[7.2,-0.36,-0.39,-0.39],[7.35,-0.085,-0.125,-0.125],[7.42,-0.14,-0.17,-0.17],[7.48,-0.1,-0.13,-0.13],[7.61,-0.22,-0.235,-0.235],[7.71,-0.255,-0.27,-0.27],[7.85,-0.15,-0.15,-0.15],[7.96,-0.2,-0.21,-0.21],[8.05,-0.17,-0.195,-0.195],[8.17,-0.22,-0.23,-0.23],[8.31,-0.145,-0.165,-0.165],[8.37,-0.17,-0.185,-0.185],[8.48,-0.105,-0.115,-0.115],[8.58,-0.2,-0.21,-0.21],[8.66,-0.165,-0.17,-0.17],[8.8,-0.3,-0.31,-0.31],[8.88,-0.27,-0.27,-0.27],[9.0,-0.33,-0.335,-0.335],[9.16,-0.29,-0.295,-0.295],[9.24,-0.335,-0.34,-0.34],[9.38,-0.165,-0.175,-0.175],[9.46,-0.21,-0.2,-0.2],[9.56,-0.175,-0.175,-0.175],[9.78,-0.4,-0.405,-0.405],[9.88,-0.31,-0.32,-0.32],[9.98,-0.37,-0.375,-0.375],[10.1,-0.195,-0.215,-0.215],[10.22,-0.3,-0.315,-0.315],[10.36,-0.165,-0.175,-0.175],[10.58,-0.32,-0.325,-0.325],[10.7,-0.15,-0.17,-0.17],[10.8,-0.36,-0.375,-0.375],[10.89,-0.14,-0.18,-0.18],[11.0,-0.35,-0.365,-0.365],[11.07,-0.32,-0.335,-0.335],[11.15,-0.36,-0.37,-0.37],[11.25,-0.235,-0.26,-0.26],[11.45,-0.445,-0.485,-0.485],[11.63,-0.16,-0.245,-0.245],[11.76,-0.45,-0.5,-0.47],[11.87,-0.1,-0.1,-0.1],[11.98,-0.39,-0.395,-0.395],[12.08,-0.215,-0.245,-0.245],[12.17,-0.31,-0.315,-0.315],[12.3,-0.32,-0.34,-0.34],[12.39,-0.31,-0.32,-0.32],[12.52,-0.175,-0.18,-0.18],[12.6,-0.4,-0.405,-0.405],[12.7,-0.085,-0.085,-0.085],[12.81,-0.515,-0.605,-0.6],[12.91,-0.26,-0.26,-0.26],[12.97,-0.275,-0.275,-0.275]];

const OBS = [nantucketObs, woodsHoleObs, chathamObs, bostonObs, fortPointObs, wellsObs, portlandObs, barHarborObs, cutlerObs, eastportObs];
const MODELS = [nantucketModels, woodsHoleModels, chathamModels, bostonModels, fortPointModels, wellsModels, portlandModels, barHarborModels, cutlerModels, eastportModels];

// ---- layout ----
const FONT = 'DejaVu Sans';
const GRID_LEFT = [78, 1336];
const GRID_WIDTH = [1197, 1199];
const GRID_TOP = [38, 424, 811, 1198, 1585];
const GRID_HEIGHT = 325;
const X_MAX = 12.97;

const fmtY = v => v.toFixed(1).replace('-', '\u2212');

const seriesStyle = [
  { color: '#ff0000', lineStyle: { width: 2.5, type: [9, 3, 2.5, 3] } },
  { color: '#118811', lineStyle: { width: 1, type: [2, 2] } },
  { color: '#c000c0', lineStyle: { width: 1.1, type: 'solid' } },
  { color: '#0000ff', lineStyle: { width: 1.1, type: 'solid' } }
];

const grids = [], xAxes = [], yAxes = [], titles = [], datasets = [], series = [];

STATION_TITLES.forEach((name, i) => {
  const col = i % 2, row = Math.floor(i / 2);
  const left = GRID_LEFT[col], width = GRID_WIDTH[col], top = GRID_TOP[row];

  grids.push({ left, top, width, height: GRID_HEIGHT, show: true,
    borderColor: '#000', borderWidth: 1, backgroundColor: 'transparent' });

  titles.push({ text: name, left: left + width / 2, top: top - 23, textAlign: 'center', padding: 0,
    textStyle: { fontFamily: FONT, fontSize: 18, fontWeight: 'normal', color: '#000' } });

  xAxes.push({
    type: 'value', gridIndex: i, min: 1, max: X_MAX,
    axisLine: { show: true, onZero: false, lineStyle: { color: '#000', width: 1 } },
    axisTick: { show: true, length: 5, customValues: X_TICKS, lineStyle: { color: '#000', width: 1 } },
    axisLabel: { customValues: X_TICKS, margin: 8, fontFamily: FONT, fontSize: 13.9, color: '#000',
      formatter: v => String(v) },
    splitLine: { show: false }
  });

  yAxes.push({
    type: 'value', gridIndex: i, min: Y_MIN[i], max: Y_MAX[i],
    name: col === 0 ? 'Elevation (m)' : '', nameLocation: 'middle', nameGap: 50,
    nameTextStyle: { fontFamily: FONT, fontSize: 13.9, color: '#000' },
    axisLine: { show: true, onZero: false, lineStyle: { color: '#000', width: 1 } },
    axisTick: { show: true, length: 5, customValues: Y_TICKS[i], lineStyle: { color: '#000', width: 1 } },
    axisLabel: { customValues: Y_TICKS[i], margin: 8, fontFamily: FONT, fontSize: 13.9, color: '#000',
      formatter: fmtY },
    splitLine: { show: false }
  });

  datasets.push({ source: OBS[i], sourceHeader: false });
  datasets.push({ source: MODELS[i], sourceHeader: false });

  SERIES_NAMES.forEach((sname, k) => {
    series.push({
      type: 'line', name: sname,
      xAxisIndex: i, yAxisIndex: i,
      datasetIndex: k === 0 ? 2 * i : 2 * i + 1,
      encode: { x: 0, y: k === 0 ? 1 : k },
      symbol: 'none', showSymbol: false,
      smooth: 0.35, connectNulls: false, clip: true,
      color: seriesStyle[k].color,
      lineStyle: Object.assign({ color: seriesStyle[k].color }, seriesStyle[k].lineStyle),
      emphasis: { disabled: true },
      z: 2 + k
    });
  });
});

const chart = echarts.init(document.getElementById('chart'), null, { renderer: 'canvas' });
chart.setOption({
  animation: false,
  backgroundColor: '#fff',
  title: titles,
  grid: grids,
  xAxis: xAxes,
  yAxis: yAxes,
  dataset: datasets,
  legend: {
    data: SERIES_NAMES, orient: 'vertical',
    right: 2550 - 1270, top: 44,
    itemWidth: 28, itemHeight: 14, itemGap: 7,
    padding: [6, 8, 6, 8],
    borderColor: '#cccccc', borderWidth: 1, borderRadius: 3,
    backgroundColor: 'rgba(255,255,255,0.8)',
    itemStyle: { opacity: 0 },
    textStyle: { fontFamily: FONT, fontSize: 13.9, color: '#000' },
    selectedMode: false
  },
  series
});
</script>
</body>
</html>
